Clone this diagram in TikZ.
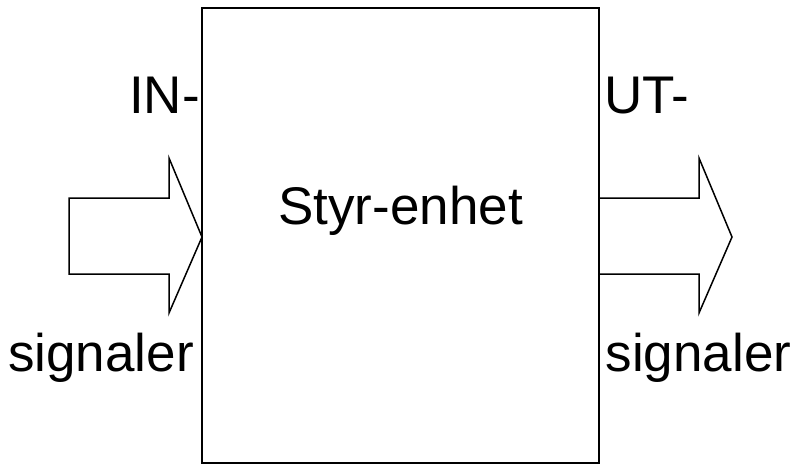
\documentclass[tikz,border=0pt]{standalone}
\usepackage{fontspec}
\setmainfont{Liberation Sans}
\begin{document}
\begin{tikzpicture}[x=1pt,y=-1pt,
  lbl/.style={inner sep=0pt,font=\fontsize{53}{60}\selectfont},
  unit/.style={draw,line width=2pt},
  bigarrow/.style={draw,line width=1.5pt,line join=miter}]
\useasboundingbox (0,0) rectangle (795,464);
% control unit
\draw[unit] (202,8) rectangle (599,463);
\coordinate (boxW) at (202,237);
\coordinate (boxE) at (599,237);
% input arrow
\draw[bigarrow] (69,198) -- (169,198) -- (169,158) -- (boxW) -- (169,313) -- (169,274) -- (69,274) -- cycle;
% output arrow
\draw[bigarrow] (599,198) -- (699,198) -- (699,158) -- (732,237) -- (699,313) -- (699,274) -- (599,274);
% labels
\node[lbl,anchor=base east] (inlbl) at (200,113) {IN-};
\node[lbl,anchor=base east] (insig) at (194,371) {signaler};
\node[lbl,anchor=base] (unitlbl) at (400.5,224) {Styr-enhet};
\node[lbl,anchor=base west] (utlbl) at (604,113) {UT-};
\node[lbl,anchor=base west] (utsig) at (605.5,371) {signaler};
\end{tikzpicture}
\end{document}
